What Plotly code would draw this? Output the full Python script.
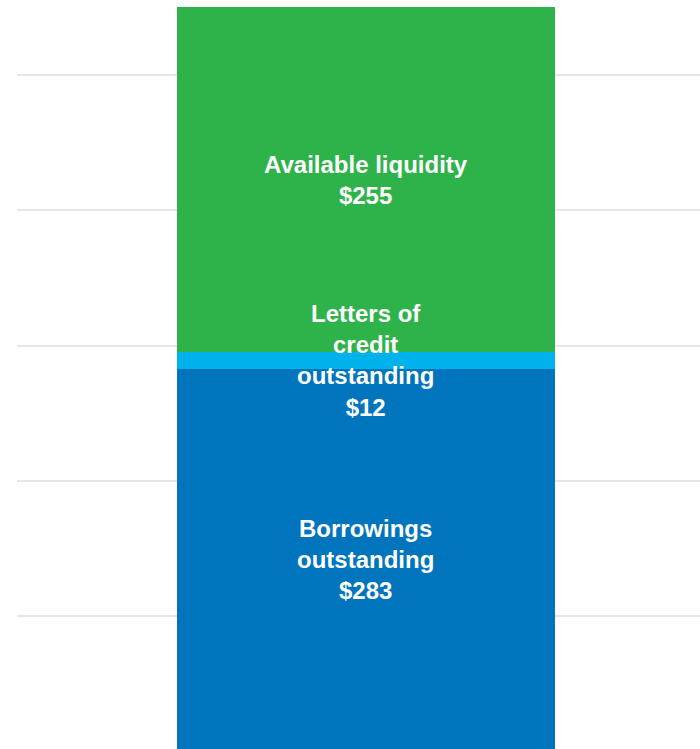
import plotly.graph_objects as go

segments = ["Borrowings outstanding", "Letters of credit outstanding", "Available liquidity"]
labels = ["Borrowings<br>outstanding", "Letters of<br>credit<br>outstanding", "Available liquidity"]
values = [283, 12, 255]
colors = ["#0075BE", "#00B2EC", "#2EB34B"]

fig = go.Figure()
for name, v, c in zip(segments, values, colors):
    fig.add_trace(go.Bar(x=[0], y=[v], width=1, name=name,
                         marker=dict(color=c, line=dict(width=0))))

# labels at the middle of each stacked segment
base = 0
for lab, v in zip(labels, values):
    fig.add_annotation(x=0, y=base + v / 2, text="<b>%s<br>$%d</b>" % (lab, v),
                       showarrow=False, xanchor="center", yanchor="middle",
                       font=dict(family="Liberation Sans, Arial", size=24, color="white"))
    base += v

fig.update_layout(
    barmode="stack", bargap=0, showlegend=False,
    width=700, height=749,
    margin=dict(l=17, r=0, t=0, b=0),
    plot_bgcolor="white", paper_bgcolor="white",
    xaxis=dict(range=[-0.923, 0.884], visible=False, fixedrange=True),
    yaxis=dict(range=[1.8, 555.4], showticklabels=False, zeroline=False,
               showgrid=True, gridcolor="#E6E6E6", gridwidth=2,
               dtick=100, tick0=0),
)

# drop the default page margin so the figure fills the window
fig.write_html("out.html", config={"displayModeBar": False},
               post_script="document.body.style.margin='0';")
